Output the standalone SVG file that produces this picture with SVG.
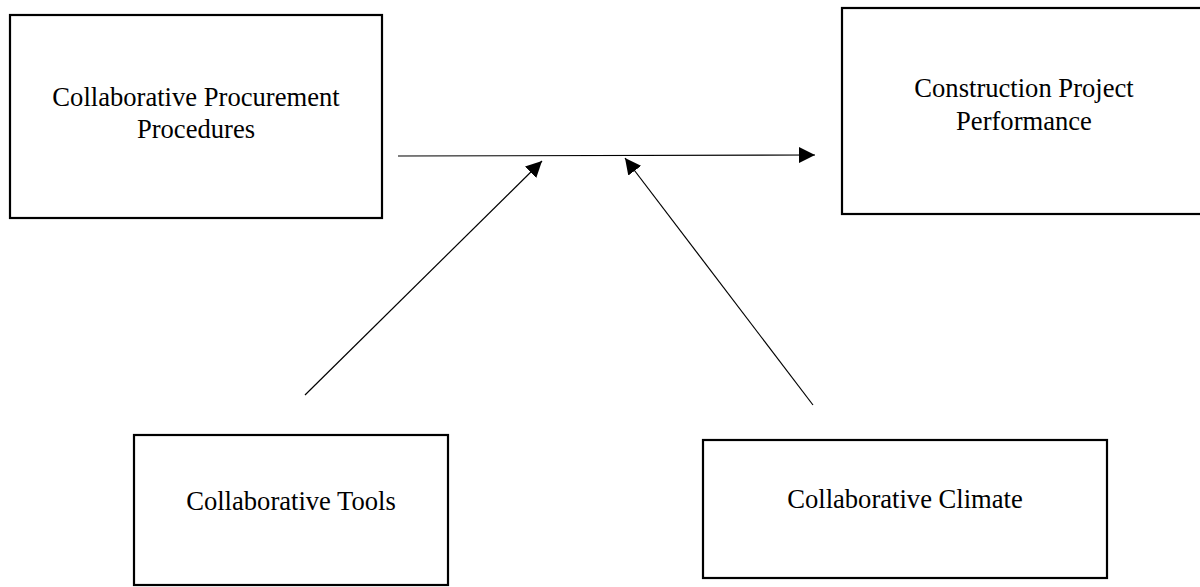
<svg xmlns="http://www.w3.org/2000/svg" width="1200" height="587" viewBox="0 0 1200 587">
  <style>
    .box { fill: #ffffff; stroke: #000000; stroke-width: 2.2; }
    .label { font-family: "Liberation Serif", "Times New Roman", serif; font-size: 26.6px; fill: #000000; text-anchor: middle; }
    .link { stroke: #000000; stroke-width: 1.2; fill: none; marker-end: url(#head); }
  </style>
  <defs>
    <marker id="head" viewBox="0 0 16 16" refX="16" refY="8" markerWidth="16" markerHeight="16" markerUnits="userSpaceOnUse" orient="auto">
      <path d="M0,0 L16,8 L0,16 Z" fill="#000000"/>
    </marker>
  </defs>
  <rect width="1200" height="587" fill="#ffffff"/>

  <g id="procurement">
    <rect class="box" x="10" y="15" width="372" height="203"/>
    <text class="label" x="196" y="106">Collaborative Procurement</text>
    <text class="label" x="196" y="138">Procedures</text>
  </g>

  <g id="performance">
    <rect class="box" x="842" y="8" width="364" height="206"/>
    <text class="label" x="1024" y="97">Construction Project</text>
    <text class="label" x="1024" y="130">Performance</text>
  </g>

  <g id="tools">
    <rect class="box" x="134" y="435" width="314" height="150"/>
    <text class="label" x="291" y="510">Collaborative Tools</text>
  </g>

  <g id="climate">
    <rect class="box" x="703" y="440" width="404" height="138"/>
    <text class="label" x="905" y="508">Collaborative Climate</text>
  </g>

  <g id="connectors">
    <line class="link" x1="398" y1="156" x2="815" y2="155"/>
    <line class="link" x1="305" y1="395" x2="542" y2="161"/>
    <line class="link" x1="813" y1="405" x2="625" y2="158"/>
  </g>
</svg>
